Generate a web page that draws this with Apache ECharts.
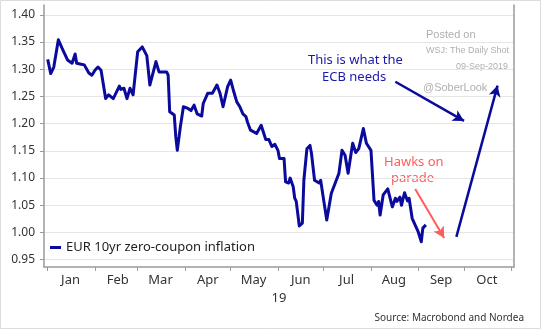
<!DOCTYPE html>
<html><head><meta charset="utf-8">
<script src="https://cdn.jsdelivr.net/npm/echarts@6/dist/echarts.min.js"></script>
<style>html,body{margin:0;padding:0;background:#fff}#c{width:541px;height:329px}</style>
</head><body><div id="c"></div>
<script>
const seriesName = 'EUR 10yr zero-coupon inflation';
const dates = ['2019-01-01','2019-01-03','2019-01-05','2019-01-08','2019-01-11','2019-01-12','2019-01-14','2019-01-17','2019-01-19','2019-01-20','2019-01-23','2019-01-25','2019-01-28','2019-01-30','2019-02-01','2019-02-03','2019-02-05','2019-02-08','2019-02-10','2019-02-13','2019-02-17','2019-02-18','2019-02-20','2019-02-22','2019-02-24','2019-02-26','2019-03-01','2019-03-04','2019-03-07','2019-03-09','2019-03-13','2019-03-15','2019-03-20','2019-03-21','2019-03-22','2019-03-25','2019-03-26','2019-03-27','2019-03-28','2019-03-29','2019-03-31','2019-04-03','2019-04-05','2019-04-07','2019-04-09','2019-04-12','2019-04-13','2019-04-16','2019-04-19','2019-04-22','2019-04-24','2019-04-25','2019-04-26','2019-04-29','2019-05-01','2019-05-03','2019-05-05','2019-05-07','2019-05-09','2019-05-11','2019-05-12','2019-05-14','2019-05-18','2019-05-21','2019-05-22','2019-05-24','2019-05-26','2019-05-28','2019-05-30','2019-06-01','2019-06-02','2019-06-05','2019-06-06','2019-06-08','2019-06-09','2019-06-11','2019-06-12','2019-06-13','2019-06-15','2019-06-17','2019-06-18','2019-06-20','2019-06-22','2019-06-23','2019-06-25','2019-06-28','2019-06-29','2019-07-01','2019-07-03','2019-07-06','2019-07-07','2019-07-11','2019-07-13','2019-07-15','2019-07-17','2019-07-20','2019-07-22','2019-07-24','2019-07-27','2019-07-29','2019-08-01','2019-08-03','2019-08-05','2019-08-06','2019-08-07','2019-08-09','2019-08-12','2019-08-13','2019-08-15','2019-08-17','2019-08-18','2019-08-20','2019-08-21','2019-08-23','2019-08-25','2019-08-26','2019-08-28','2019-08-29','2019-09-01','2019-09-03','2019-09-04','2019-09-06'];
const values = [1.318,1.292,1.304,1.354,1.335,1.329,1.317,1.311,1.328,1.311,1.309,1.308,1.293,1.289,1.298,1.304,1.298,1.246,1.253,1.246,1.269,1.263,1.265,1.246,1.265,1.253,1.332,1.341,1.325,1.271,1.314,1.295,1.295,1.289,1.222,1.216,1.176,1.151,1.153,1.194,1.231,1.228,1.224,1.234,1.218,1.214,1.237,1.256,1.256,1.271,1.256,1.253,1.231,1.268,1.280,1.259,1.240,1.231,1.218,1.213,1.203,1.188,1.182,1.197,1.194,1.171,1.171,1.158,1.162,1.151,1.136,1.136,1.093,1.091,1.100,1.084,1.063,1.057,1.012,1.017,1.096,1.154,1.160,1.145,1.096,1.091,1.096,1.059,1.023,1.072,1.069,1.109,1.151,1.142,1.109,1.164,1.147,1.154,1.191,1.164,1.151,1.059,1.050,1.057,1.032,1.069,1.080,1.079,1.047,1.063,1.057,1.065,1.050,1.073,1.058,1.063,1.026,1.023,1.001,0.983,1.008,1.014];
const monthLabels = ['Jan','Feb','Mar','Apr','May','Jun','Jul','Aug','Sep','Oct'];
const yTickValues = [0.95,1.00,1.05,1.10,1.15,1.20,1.25,1.30,1.35,1.40];
const yearLabel = '19';
const ecbArrowDown = [['2019-08-17',1.277],['2019-10-01',1.205]];
const ecbArrowUp = [['2019-09-26',0.992],['2019-10-23',1.270]];
const hawksArrow = [['2019-08-30',1.080],['2019-09-18',0.990]];

const toTs = s => { const p = s.split('-').map(Number); return new Date(p[0], p[1]-1, p[2]).getTime(); };
const seriesData = dates.map((d, i) => [toTs(d), values[i]]);
const monthStarts = []; for (let m = 0; m <= 10; m++) monthStarts.push(new Date(2019, m, 1).getTime());
const monthMids = monthLabels.map((_, m) => new Date(2019, m, 16).getTime());
const arrowItem = (pts, color, width) => [
  { coord: [toTs(pts[0][0]), pts[0][1]], symbol: 'none',
    lineStyle: { color: color, width: width, type: 'solid' }, itemStyle: { color: color } },
  { coord: [toTs(pts[1][0]), pts[1][1]], symbol: 'arrow', symbolSize: [9, 11], itemStyle: { color: color } }
];
const axisGray = '#9a9a9a';
const chart = echarts.init(document.getElementById('c'), null, { renderer: 'canvas' });
chart.setOption({
  animation: false,
  backgroundColor: '#ffffff',
  textStyle: { fontFamily: 'Noto Sans' },
  grid: { left: 44, right: 27, top: 5, bottom: 62, containLabel: false, outerBoundsMode: 'none' },
  legend: {
    left: 45, top: 236, icon: 'rect', itemWidth: 11, itemHeight: 3, itemGap: 4,
    textStyle: { fontSize: 13, color: '#222', fontFamily: 'Noto Sans' },
    data: [seriesName]
  },
  xAxis: {
    type: 'value',
    min: new Date(2018, 11, 29, 14).getTime(),
    max: new Date(2019, 10, 2, 19).getTime(),
    name: yearLabel, nameLocation: 'middle', nameGap: 25,
    nameTextStyle: { fontSize: 13, color: '#333', fontFamily: 'Noto Sans' },
    axisLine: { show: true, lineStyle: { color: axisGray, width: 1.5 } },
    axisTick: { show: true, length: 4, lineStyle: { color: axisGray }, customValues: monthStarts },
    axisLabel: {
      customValues: monthMids, margin: 7, fontSize: 13, color: '#333', fontFamily: 'Noto Sans',
      formatter: v => monthLabels[new Date(v).getMonth()]
    },
    splitLine: { show: false }
  },
  yAxis: [{
    type: 'value', min: 0.9366, max: 1.418,
    axisLine: { show: true, lineStyle: { color: axisGray, width: 1.5 } },
    axisTick: { show: true, length: 4, lineStyle: { color: axisGray }, customValues: yTickValues },
    axisLabel: { customValues: yTickValues, margin: 9, fontSize: 12, color: '#333', fontFamily: 'Noto Sans',
      formatter: v => v.toFixed(2) },
    splitLine: { show: true, lineStyle: { color: '#e6e6e6', width: 1 } }
  }, {
    type: 'value', position: 'right', min: 0.9366, max: 1.418,
    axisLine: { show: true, lineStyle: { color: axisGray, width: 1.5 } },
    axisTick: { show: false }, axisLabel: { show: false }, splitLine: { show: false }
  }],
  series: [{
    name: seriesName, type: 'line', data: seriesData, showSymbol: false, symbol: 'none',
    color: '#0a0a9c',
    lineStyle: { width: 3, color: '#0a0a9c', join: 'round' },
    markLine: {
      silent: true, symbol: ['none', 'arrow'], symbolSize: 10,
      label: { show: false },
      data: [
        arrowItem(ecbArrowDown, '#0a0a9c', 2.5),
        arrowItem(ecbArrowUp, '#0a0a9c', 2.5),
        arrowItem(hawksArrow, '#ff5c5c', 2)
      ]
    }
  }],
  graphic: [
    { type: 'rect', shape: { x: 0.5, y: 0.5, width: 540, height: 328 }, style: { fill: 'none', stroke: '#dcdcdc', lineWidth: 1 }, silent: true },
    { type: 'text', left: 308, top: 54, style: { text: 'This is what the', font: '13px "Noto Sans"', fill: '#1a1aaa' } },
    { type: 'text', left: 322, top: 71, style: { text: 'ECB needs', font: '13px "Noto Sans"', fill: '#1a1aaa' } },
    { type: 'text', left: 384, top: 156, style: { text: 'Hawks on', font: '13px "Noto Sans"', fill: '#ff5c5c' } },
    { type: 'text', left: 391, top: 172, style: { text: 'parade', font: '13px "Noto Sans"', fill: '#ff5c5c' } },
    { type: 'text', left: 426, top: 29, style: { text: 'Posted on', font: '11px "Liberation Sans"', fill: '#b0b0b0' } },
    { type: 'text', left: 426, top: 46, style: { text: 'WSJ: The Daily Shot', font: '9px "Liberation Sans"', fill: '#b0b0b0' } },
    { type: 'text', right: 33, top: 62, style: { text: '09-Sep-2019', font: '9px "Liberation Sans"', fill: '#b0b0b0' } },
    { type: 'text', left: 423, top: 82, style: { text: '@SoberLook', font: '11px "Liberation Sans"', fill: '#b0b0b0' } },
    { type: 'text', right: 17, top: 313, style: { text: 'Source: Macrobond and Nordea', font: '10px "Noto Sans"', fill: '#333' } }
  ]
});
</script></body></html>
